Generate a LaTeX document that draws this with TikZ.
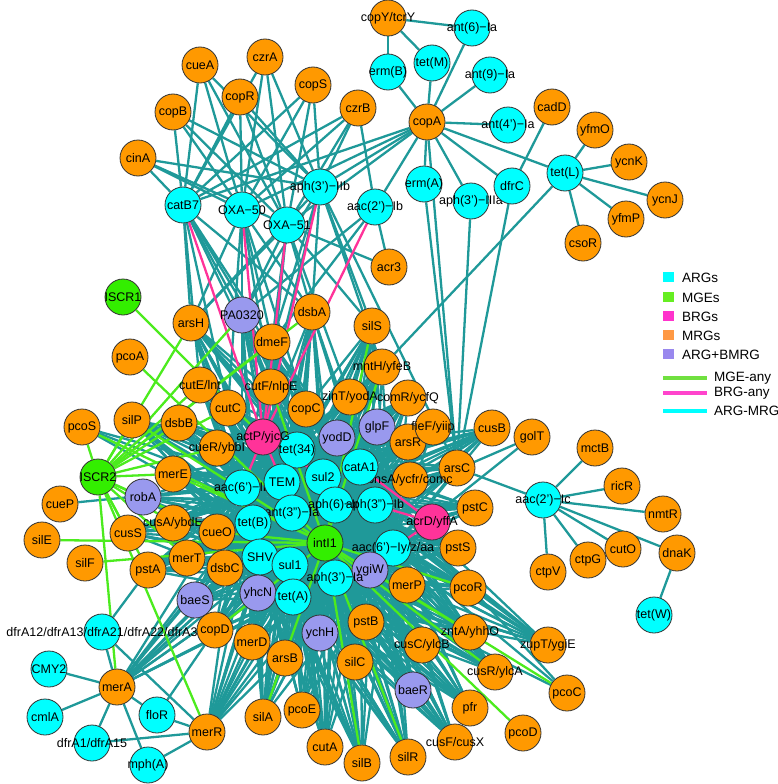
\documentclass[tikz,border=0pt]{standalone}
\usepackage{fontspec}
\setmainfont{Liberation Sans}
\pgfdeclarelayer{bg}
\pgfsetlayers{bg,main}
\definecolor{argc}{HTML}{00FFFF}
\definecolor{mgec}{HTML}{33EE00}
\definecolor{brgc}{HTML}{FF3399}
\definecolor{mrgc}{HTML}{FF9900}
\definecolor{abmc}{HTML}{9999EE}
\definecolor{tealc}{HTML}{1F9999}
\definecolor{mgeline}{HTML}{4CEB1E}
\definecolor{brgline}{HTML}{FF3399}
\definecolor{lgmge}{HTML}{70E040}
\definecolor{lgbrg}{HTML}{FF44CC}
\definecolor{lgmrg}{HTML}{FF9944}
\definecolor{lgabm}{HTML}{9988EE}
\definecolor{lgmgesq}{HTML}{66EE22}
\definecolor{lgbrgsq}{HTML}{FF33CC}
\newcommand\gn[5]{\node[#1,label={[lbl]center:{#5}}] (#2) at (#3,#4) {};}
\begin{document}
\begin{tikzpicture}[x=1pt,y=-1pt,
  nd/.style={circle,draw=black!80,line width=0.8pt,minimum size=36pt,inner sep=0pt},
  arg/.style={nd,fill=argc},
  mge/.style={nd,fill=mgec},
  brg/.style={nd,fill=brgc},
  mrg/.style={nd,fill=mrgc},
  abm/.style={nd,fill=abmc},
  lbl/.style={inner sep=0pt,font=\fontsize{12.5}{14}\selectfont,text=black},
  te/.style={draw=tealc,line width=2.3pt},
  ge/.style={draw=mgeline,line width=2.3pt},
  pe/.style={draw=brgline,line width=2.3pt},
  lgsq/.style={inner sep=0pt,minimum width=11pt,minimum height=10pt},
  lgt/.style={inner sep=0pt,anchor=west,font=\fontsize{13.5}{15}\selectfont}]
\useasboundingbox (0,0) rectangle (778,784);
% ---------------- nodes ----------------
\gn{mrg}{copY}{388}{18}{copY/tcrY}
\gn{arg}{antVI}{472}{28}{ant(6)−Ia}
\gn{arg}{ermB}{388}{72}{erm(B)}
\gn{arg}{tetM}{432}{63}{tet(M)}
\gn{arg}{antIX}{490}{75}{ant(9)−Ia}
\gn{mrg}{copA}{427}{122}{copA}
\gn{arg}{antIV}{508}{125}{ant(4')−Ia}
\gn{mrg}{cadD}{552}{107}{cadD}
\gn{mrg}{yfmO}{595}{130}{yfmO}
\gn{mrg}{ycnK}{629}{162}{ycnK}
\gn{mrg}{ycnJ}{665}{200}{ycnJ}
\gn{arg}{tetL}{565}{173}{tet(L)}
\gn{mrg}{yfmP}{626}{219}{yfmP}
\gn{mrg}{csoR}{583}{243}{csoR}
\gn{arg}{ermA}{424}{184}{erm(A)}
\gn{arg}{aphIIIa}{471}{201}{aph(3')−IIIa}
\gn{arg}{dfrC}{512}{186}{dfrC}
\gn{mrg}{cueA}{200}{65}{cueA}
\gn{mrg}{czrA}{265}{57}{czrA}
\gn{mrg}{copB}{173}{112}{copB}
\gn{mrg}{copR}{240}{97}{copR}
\gn{mrg}{copS}{313}{85}{copS}
\gn{mrg}{czrB}{358}{108}{czrB}
\gn{mrg}{cinA}{138}{158}{cinA}
\gn{arg}{catB}{183}{205}{catB7}
\gn{arg}{OXAl}{242}{210}{OXA−50}
\gn{arg}{aphIIb}{320}{187}{aph(3')−IIb}
\gn{arg}{OXAli}{287}{225}{OXA−51}
\gn{arg}{aacIIb}{375}{207}{aac(2')−Ib}
\gn{mrg}{acrIII}{389}{267}{acr3}
\gn{mge}{ISCRi}{123}{297}{ISCR1}
\gn{mrg}{arsH}{191}{323}{arsH}
\gn{abm}{PA}{242}{315}{PA0320}
\gn{mrg}{dsbA}{312}{312}{dsbA}
\gn{mrg}{dmeF}{272}{342}{dmeF}
\gn{mrg}{silS}{372}{326}{silS}
\gn{mrg}{pcoA}{130}{357}{pcoA}
\gn{mrg}{mntH}{382}{367}{mntH/yfeB}
\gn{mrg}{cutE}{200}{385}{cutE/lnt}
\gn{mrg}{cutF}{271}{387}{cutF/nlpE}
\gn{mrg}{zinT}{350}{397}{zinT/yodA}
\gn{mrg}{comR}{408}{398}{comR/ycfQ}
\gn{mrg}{cutC}{228}{408}{cutC}
\gn{mrg}{copC}{306}{409}{copC}
\gn{mrg}{silP}{132}{420}{silP}
\gn{mrg}{dsbB}{179}{423}{dsbB}
\gn{mrg}{pcoS}{82}{427}{pcoS}
\gn{mrg}{cusB}{492}{428}{cusB}
\gn{mrg}{golT}{532}{437}{golT}
\gn{abm}{glpF}{377}{427}{glpF}
\gn{mrg}{arsR}{408}{442}{arsR}
\gn{mrg}{fieF}{433}{427}{fieF/yiip}
\gn{abm}{yodD}{337}{438}{yodD}
\gn{arg}{tetXXXIV}{297}{450}{tet(34)}
\gn{brg}{actP}{263}{437}{actP/yjcG}
\gn{mrg}{cueR}{217}{448}{cueR/ybbI}
\gn{mrg}{merE}{173}{474}{merE}
\gn{mge}{ISCRii}{98}{477}{ISCR2}
\gn{abm}{robA}{143}{497}{robA}
\gn{mrg}{cueP}{60}{504}{cueP}
\gn{mrg}{silE}{42}{540}{silE}
\gn{mrg}{cusS}{128}{533}{cusS}
\gn{mrg}{cusA}{173}{523}{cusA/ybdE}
\gn{mrg}{cueO}{217}{532}{cueO}
\gn{mrg}{silF}{85}{563}{silF}
\gn{mrg}{pstA}{148}{570}{pstA}
\gn{mrg}{merT}{187}{558}{merT}
\gn{mrg}{dsbC}{225}{568}{dsbC}
\gn{abm}{baeS}{195}{600}{baeS}
\gn{arg}{dfrAxii}{102}{632}{dfrA12/dfrA13/dfrA21/dfrA22/dfrA3}
\gn{mrg}{copD}{215}{630}{copD}
\gn{mrg}{merD}{252}{642}{merD}
\gn{arg}{CMY}{49}{669}{CMY2}
\gn{mrg}{merA}{117}{687}{merA}
\gn{arg}{cmlA}{45}{717}{cmlA}
\gn{arg}{floR}{157}{715}{floR}
\gn{arg}{dfrAi}{92}{743}{dfrA1/dfrA15}
\gn{arg}{mphA}{148}{765}{mph(A)}
\gn{mrg}{merR}{207}{732}{merR}
\gn{mrg}{silA}{263}{717}{silA}
\gn{mrg}{arsB}{285}{658}{arsB}
\gn{mrg}{pcoE}{302}{710}{pcoE}
\gn{mrg}{cutA}{325}{747}{cutA}
\gn{mrg}{silB}{362}{763}{silB}
\gn{mrg}{silC}{355}{662}{silC}
\gn{mrg}{silR}{408}{757}{silR}
\gn{abm}{baeR}{413}{690}{baeR}
\gn{mrg}{pfr}{470}{708}{pfr}
\gn{mrg}{cusF}{455}{742}{cusF/cusX}
\gn{mrg}{pcoD}{523}{733}{pcoD}
\gn{mrg}{pcoC}{567}{693}{pcoC}
\gn{mrg}{cusR}{495}{672}{cusR/ylcA}
\gn{mrg}{zntA}{470}{632}{zntA/yhhO}
\gn{mrg}{cusC}{422}{645}{cusC/ylcB}
\gn{mrg}{zupT}{548}{645}{zupT/ygiE}
\gn{mrg}{pstB}{366}{622}{pstB}
\gn{mrg}{merP}{407}{585}{merP}
\gn{mrg}{pcoR}{468}{588}{pcoR}
\gn{mrg}{pstS}{458}{548}{pstS}
\gn{mrg}{pstC}{475}{508}{pstC}
\gn{mrg}{arsC}{457}{468}{arsC}
\gn{mrg}{bhsA}{410}{480}{bhsA/ycfr/comc}
\gn{arg}{catA}{360}{467}{catA1}
\gn{arg}{sulII}{323}{477}{sul2}
\gn{arg}{aacVIb}{242}{488}{aac(6')−Ib}
\gn{arg}{TEM}{282}{482}{TEM}
\gn{arg}{antIII}{292}{513}{ant(3'')−Ia}
\gn{arg}{tetB}{253}{523}{tet(B)}
\gn{arg}{aphVI}{335}{505}{aph(6)−Id}
\gn{arg}{aphIIIb}{375}{505}{aph(3'')−Ib}
\gn{brg}{acrD}{432}{522}{acrD/yffA}
\gn{mge}{intI}{325}{543}{intI1}
\gn{arg}{aacVIy}{393}{548}{aac(6')−Iy/z/aa}
\gn{arg}{SHV}{260}{557}{SHV}
\gn{arg}{sulI}{290}{565}{sul1}
\gn{abm}{ygiW}{370}{570}{ygiW}
\gn{arg}{aphIa}{335}{578}{aph(3')−Ia}
\gn{abm}{yhcN}{258}{593}{yhcN}
\gn{arg}{tetA}{293}{597}{tet(A)}
\gn{abm}{ychH}{320}{633}{ychH}
\gn{arg}{aacIIc}{543}{500}{aac(2')−Ic}
\gn{mrg}{mctB}{595}{448}{mctB}
\gn{mrg}{ricR}{622}{486}{ricR}
\gn{mrg}{nmtR}{663}{514}{nmtR}
\gn{mrg}{cutO}{623}{549}{cutO}
\gn{mrg}{dnaK}{677}{553}{dnaK}
\gn{mrg}{ctpG}{588}{560}{ctpG}
\gn{mrg}{ctpV}{548}{572}{ctpV}
\gn{arg}{tetW}{654}{615}{tet(W)}
% ---------------- edges ----------------
\def\core{TEM,sulII,sulI,tetA,tetB,aacVIb,antIII,aphVI,aphIIIb,SHV,catA,tetXXXIV,aphIa,aacVIy}
\begin{pgfonlayer}{bg}
\foreach \m in {arsH,dmeF,dsbA,cutE,cutF,cutC,copC,dsbB,cueR,merE,cusA,cueO,merT,dsbC,cusS,pstA,copD,merD,arsB,pcoE,silC,cutA,silB,silR,pstB,merP,pcoR,zntA,cusC,cusR,pfr,cusF,pstS,pstC,arsC,cusB,arsR,fieF,comR,zinT,mntH,silS,silA,merA,merR,zupT,bhsA,PA,yodD,glpF,robA,baeS,yhcN,ychH,baeR,ygiW,silP}
  {\foreach \a in \core {\draw[te] (\m) -- (\a);}}
\foreach \m in {cinA,copB,cueA,copR,czrA,copS,czrB,copA}
  {\foreach \a in {catB,OXAl,OXAli,aphIIb} {\draw[te] (\m) -- (\a);}}
\foreach \a in {arsH,PA,dmeF,cutE,cutF,cutC,dsbA,copC} {\draw[te] (catB) -- (\a);}
\foreach \a in {arsH,PA,dmeF,cutF,dsbA,copC,cutC} {\draw[te] (OXAl) -- (\a);}
\foreach \a in {PA,dmeF,cutF,dsbA,silS,acrIII,arsH,zinT} {\draw[te] (OXAli) -- (\a);}
\foreach \a in {PA,dmeF,dsbA,silS,mntH,cutF,arsC,arsH} {\draw[te] (aphIIb) -- (\a);}
\foreach \a in {acrIII,dmeF,PA,copA,czrB} {\draw[te] (aacIIb) -- (\a);}
\foreach \a in {ermB,tetM,antVI,antIX,antIV,ermA,aphIIIa,dfrC,tetL,arsC} {\draw[te] (copA) -- (\a);}
\foreach \a in {ermB,tetM,antVI} {\draw[te] (copY) -- (\a);}
\draw[te] (cadD) -- (dfrC);
\foreach \a in {yfmO,ycnK,ycnJ,yfmP,csoR,mntH} {\draw[te] (tetL) -- (\a);}
\foreach \a in {ermA,aphIIIa,dfrC} {\draw[te] (\a) -- (arsC);}
\foreach \a in {mctB,ricR,nmtR,cutO,dnaK,ctpG,ctpV,arsC} {\draw[te] (aacIIc) -- (\a);}
\draw[te] (dnaK) -- (tetW);
\foreach \a in {aacVIy,aphIIIb} {\draw[te] (golT) -- (\a);}
\foreach \a in {aacVIy,aphIa,catA} {\draw[te] (pcoC) -- (\a);}
\foreach \a in {CMY,cmlA,dfrAi,mphA,floR,dfrAxii} {\draw[te] (merA) -- (\a);}
\foreach \a in {floR,dfrAi,mphA,dfrAxii} {\draw[te] (merR) -- (\a);}
\draw[te] (dfrAxii) -- (pstA);
\draw[te] (floR) -- (copD);
\draw[te] (cueP) -- (TEM);
\foreach \a in {TEM,aacVIb,tetB} {\draw[te] (pcoS) -- (\a);}
% BRG edges
\foreach \a in {catB,OXAl,OXAli,aphIIb,aacIIb,tetXXXIV,TEM,aacVIb,sulII} {\draw[pe] (actP) -- (\a);}
\foreach \a in {aphIIIb,catA,aacVIy,pstS} {\draw[pe] (acrD) -- (\a);}
% MGE edges
\draw[ge] (ISCRi) -- (actP);
\foreach \a in {arsH,PA,dsbA,dmeF,cutE,silP,dsbB,pcoS,merE,robA,cusS,cusA,cueO,merT,pstA,merA,merR,cutC,cueR}
  {\draw[ge] (ISCRii) -- (\a);}
\foreach \a in {silE,silF,pcoA,silA,silB,silR,pcoD,pcoC,cusR,silP,pcoS,cueO,merE,copD,mntH,cutF,pcoR,zntA,silS}
  {\draw[ge] (intI) -- (\a);}
\end{pgfonlayer}
% ---------------- legend ----------------
\node[lgsq,fill=argc] (lq1) at (668,277) {};
\node[lgt] (lt1) at (682,278) {ARGs};
\node[lgsq,fill=lgmgesq] (lq2) at (668,297) {};
\node[lgt] (lt2) at (682,298) {MGEs};
\node[lgsq,fill=lgbrgsq] (lq3) at (668,316) {};
\node[lgt] (lt3) at (682,317) {BRGs};
\node[lgsq,fill=lgmrg] (lq4) at (668,335) {};
\node[lgt] (lt4) at (682,336) {MRGs};
\node[lgsq,fill=lgabm] (lq5) at (668,354) {};
\node[lgt] (lt5) at (682,355) {ARG+BMRG};
\coordinate (la1) at (663,378); \coordinate (lb1) at (707,378);
\coordinate (la2) at (663,393); \coordinate (lb2) at (707,393);
\coordinate (la3) at (663,411); \coordinate (lb3) at (707,411);
\draw[lgmge,line width=4pt] (la1) -- (lb1);
\draw[lgbrg,line width=4pt] (la2) -- (lb2);
\draw[argc,line width=4pt] (la3) -- (lb3);
\node[lgt] (lt6) at (714,378) {MGE-any};
\node[lgt] (lt7) at (714,393) {BRG-any};
\node[lgt] (lt8) at (714,411) {ARG-MRG};
\end{tikzpicture}
\end{document}
